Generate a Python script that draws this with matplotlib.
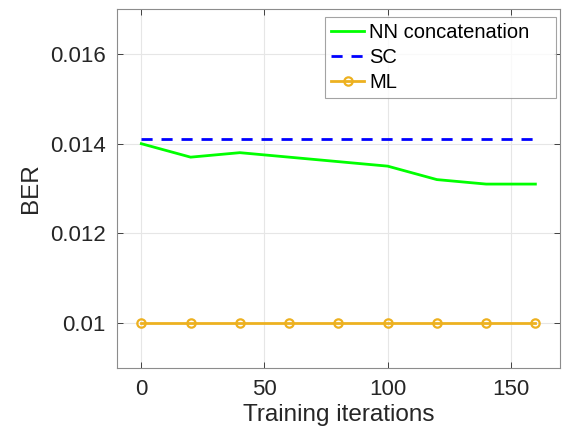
import matplotlib
matplotlib.use("Agg")
import matplotlib.pyplot as plt

iterations = [0, 20, 40, 60, 80, 100, 120, 140, 160]
ber_nn = [0.0140, 0.0137, 0.0138, 0.0137, 0.0136, 0.0135, 0.0132, 0.0131, 0.0131]
ber_sc = [0.0141] * 9
ber_ml = [0.0100] * 9

x_ticks = [0, 50, 100, 150]
y_ticks = [0.01, 0.012, 0.014, 0.016]
y_tick_labels = ["0.01", "0.012", "0.014", "0.016"]

plt.rcParams['font.family'] = ['Liberation Sans', 'DejaVu Sans']
text_color = "#262626"

fig = plt.figure(figsize=(5.63, 4.32), dpi=100)
ax = fig.add_axes([0.2073, 0.148, 0.7874, 0.831])

ax.plot(iterations, ber_nn, color=(0, 1, 0), lw=2, label="NN concatenation")
ax.plot(iterations, ber_sc, color=(0, 0, 1), lw=2, ls=(0, (4, 3.2)), label="SC")
ax.plot(iterations, ber_ml, color="#EDB120", lw=2, marker="o", ms=6,
        mfc="none", mew=1.6, label="ML")

ax.set_xlim(-10, 170)
ax.set_ylim(0.009, 0.017)
ax.set_xticks(x_ticks)
ax.set_yticks(y_ticks)
ax.set_yticklabels(y_tick_labels)
ax.grid(True, color="#e6e6e6", lw=0.8)
ax.set_axisbelow(True)
ax.tick_params(direction="in", length=4, width=0.6, labelsize=16,
               colors=text_color, top=True, right=True, pad=8)
for s in ax.spines.values():
    s.set_color("#8c8c8c")
    s.set_linewidth(0.8)

ax.set_xlabel("Training iterations", fontsize=17.5, color=text_color, labelpad=3)
ax.set_ylabel("BER", fontsize=17.5, color=text_color, labelpad=6)

# MATLAB-like legend: wider box with extra room on the right
leg = ax.legend(loc="upper left", bbox_to_anchor=(0.47, 0.978, 0.521, 0),
                mode="expand", fontsize=14.5, frameon=True, fancybox=False,
                edgecolor="#8c8c8c", handlelength=1.65, handletextpad=0.25,
                borderpad=0.3, labelspacing=0.3, borderaxespad=0)
leg.get_frame().set_linewidth(0.8)
for t in leg.get_texts():
    t.set_color("black")

fig.savefig("out.png", dpi=100, facecolor="white")
